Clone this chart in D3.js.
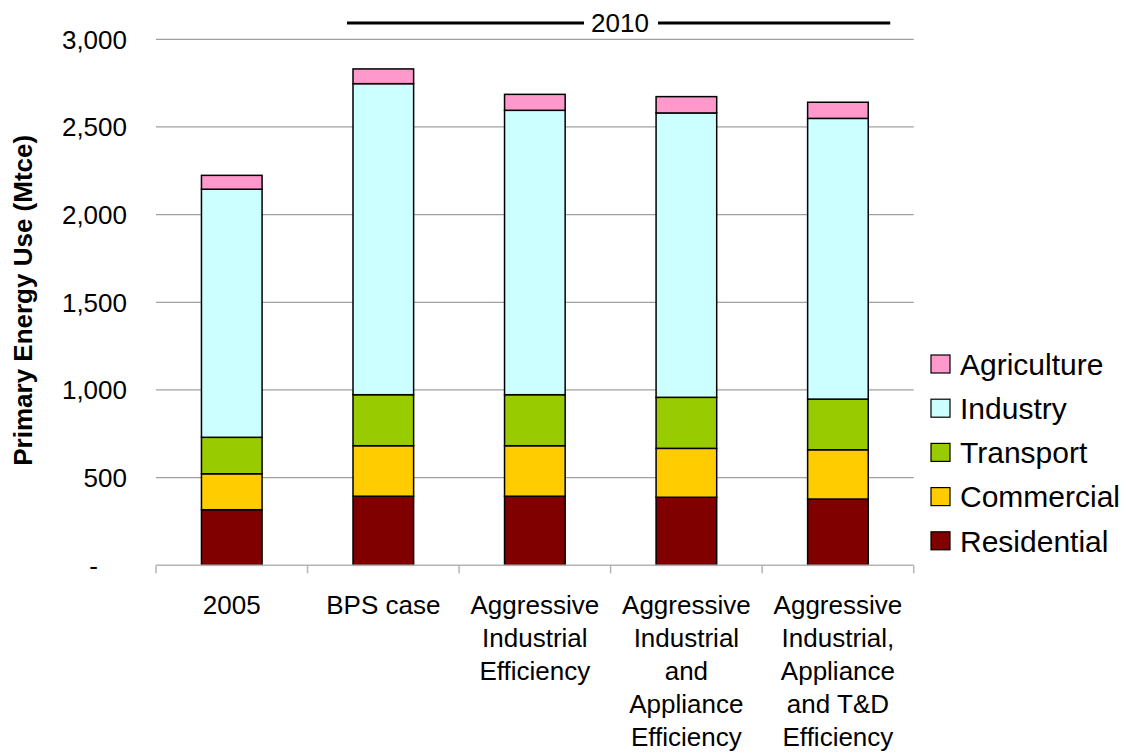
<!DOCTYPE html>
<html>
<head>
<meta charset="utf-8">
<script src="https://cdn.jsdelivr.net/npm/d3@7"></script>
<style>
  body { margin: 0; background: #fff; }
  text { font-family: "Liberation Sans", Arial, sans-serif; fill: #000; }
</style>
</head>
<body>
<div id="chart"></div>
<script>
// scenarios on the x axis (one array of lines per label)
var scenarios = ["2005", "BPS case", "Aggressive Industrial Efficiency",
  "Aggressive Industrial and Appliance Efficiency",
  "Aggressive Industrial, Appliance and T&D Efficiency"];
var scenarioLines = [
  ["2005"],
  ["BPS case"],
  ["Aggressive", "Industrial", "Efficiency"],
  ["Aggressive", "Industrial", "and", "Appliance", "Efficiency"],
  ["Aggressive", "Industrial,", "Appliance", "and T&D", "Efficiency"]
];

// sectors, bottom to top
var sectors = ["Residential", "Commercial", "Transport", "Industry", "Agriculture"];
var residential = [317, 394, 394, 388, 378];
var commercial  = [205, 288, 288, 279, 281];
var transport   = [208, 291, 291, 291, 289];
var industry    = [1415, 1774, 1622, 1622, 1601];
var agriculture = [79, 84, 91, 93, 92];

var yTicks = [0, 500, 1000, 1500, 2000, 2500, 3000];
var yTickLabels = ["-", "500", "1,000", "1,500", "2,000", "2,500", "3,000"];

var colors = {
  Residential: "#800000",
  Commercial: "#ffcc00",
  Transport: "#99cc00",
  Industry: "#ccffff",
  Agriculture: "#ff99cc"
};

// rows for d3.stack
var rows = scenarios.map(function(s, i) {
  return { scenario: s, Residential: residential[i], Commercial: commercial[i],
    Transport: transport[i], Industry: industry[i], Agriculture: agriculture[i] };
});

var W = 1126, H = 755;
var plotL = 156, plotR = 913.7, plotT = 39.3, plotB = 565.3;

var svg = d3.select("#chart").append("svg")
  .attr("width", W).attr("height", H);

var x = d3.scaleBand().domain(scenarios).range([plotL, plotR])
  .paddingInner(0.6).paddingOuter(0.3);
var y = d3.scaleLinear().domain([0, 3000]).range([plotB, plotT]);

// gridlines
svg.append("g").selectAll("line").data(yTicks.slice(1)).enter().append("line")
  .attr("x1", plotL).attr("x2", plotR)
  .attr("y1", function(d) { return y(d); }).attr("y2", function(d) { return y(d); })
  .attr("stroke", "#a0a0a0").attr("stroke-width", 1.2);

// y tick labels (the "-" for zero sits further left, accounting style)
svg.append("g").selectAll("text").data(yTicks).enter().append("text")
  .attr("x", 127).attr("y", function(d) { return y(d); })
  .attr("dx", function(d) { return d === 0 ? -29 : 0; })
  .attr("dy", "0.36em").attr("text-anchor", "end")
  .style("font-size", "26px")
  .text(function(d, i) { return yTickLabels[i]; });

// y title
svg.append("text")
  .attr("transform", "translate(32," + ((plotT + plotB) / 2 - 2) + ") rotate(-90)")
  .attr("text-anchor", "middle")
  .style("font-size", "26px").style("font-weight", "bold")
  .text("Primary Energy Use (Mtce)");

// stacked bars
var stack = d3.stack().keys(sectors)(rows);
svg.append("g").selectAll("g").data(stack).enter().append("g")
    .attr("fill", function(d) { return colors[d.key]; })
  .selectAll("rect").data(function(d) { return d; }).enter().append("rect")
    .attr("x", function(d) { return x(d.data.scenario); })
    .attr("width", x.bandwidth())
    .attr("y", function(d) { return y(d[1]); })
    .attr("height", function(d) { return y(d[0]) - y(d[1]); })
    .attr("stroke", "#000").attr("stroke-width", 1.5);

// category axis line and tick marks
svg.append("line").attr("x1", plotL).attr("x2", plotR)
  .attr("y1", plotB).attr("y2", plotB)
  .attr("stroke", "#b4b4b4").attr("stroke-width", 1.5);
var step = x.step();
var bounds = d3.range(scenarios.length + 1).map(function(i) { return plotL + i * step; });
svg.append("g").selectAll("line").data(bounds).enter().append("line")
  .attr("x1", function(d) { return d; }).attr("x2", function(d) { return d; })
  .attr("y1", plotB).attr("y2", plotB + 8)
  .attr("stroke", "#b4b4b4").attr("stroke-width", 1.5);

// category labels
var cat = svg.append("g").selectAll("text").data(scenarios).enter().append("text")
  .attr("x", function(d) { return x(d) + x.bandwidth() / 2; })
  .attr("y", 614)
  .attr("text-anchor", "middle")
  .style("font-size", "26px");
cat.selectAll("tspan").data(function(d, i) { return scenarioLines[i]; }).enter().append("tspan")
  .attr("x", function() { return d3.select(this.parentNode).attr("x"); })
  .attr("dy", function(d, i) { return i === 0 ? 0 : 33; })
  .text(function(d) { return d; });

// 2010 bracket
var x2010a = x(scenarios[1]) - 6, x2010b = x(scenarios[4]) + x.bandwidth() + 22;
var midX = 620;
svg.append("line").attr("x1", x2010a).attr("x2", midX - 36).attr("y1", 23).attr("y2", 23)
  .attr("stroke", "#000").attr("stroke-width", 3);
svg.append("line").attr("x1", midX + 38).attr("x2", x2010b).attr("y1", 23).attr("y2", 23)
  .attr("stroke", "#000").attr("stroke-width", 3);
svg.append("text").attr("x", midX).attr("y", 23).attr("dy", "0.36em")
  .attr("text-anchor", "middle").style("font-size", "26px").text("2010");

// legend, top item is Agriculture
var legendKeys = sectors.slice().reverse();
var legend = svg.append("g").selectAll("g").data(legendKeys).enter().append("g")
  .attr("transform", function(d, i) { return "translate(931," + (364 + i * 44.2) + ")"; });
legend.append("rect")
  .attr("x", 0).attr("y", -9).attr("width", 19).attr("height", 18)
  .attr("fill", function(d) { return colors[d]; })
  .attr("stroke", "#000").attr("stroke-width", 1.2);
legend.append("text")
  .attr("x", 29).attr("y", 0).attr("dy", "0.36em")
  .style("font-size", "30px")
  .text(function(d) { return d; });
</script>
</body>
</html>
